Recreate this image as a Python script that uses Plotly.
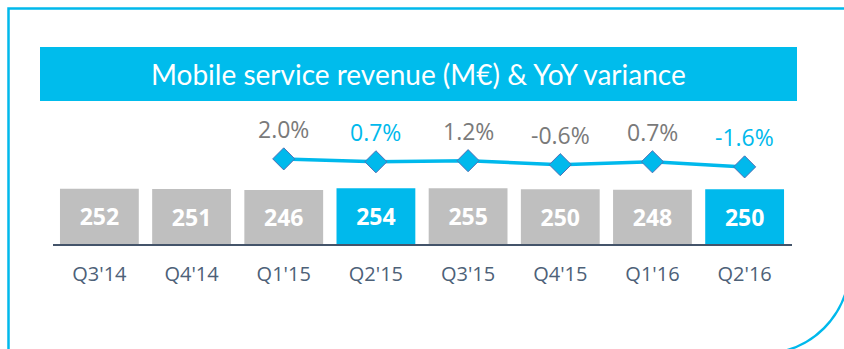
import plotly.graph_objects as go

# Quarterly mobile service revenue (M€) and year-on-year variance (%)
quarters = ["Q3'14", "Q4'14", "Q1'15", "Q2'15", "Q3'15", "Q4'15", "Q1'16", "Q2'16"]
revenue = [252, 251, 246, 254, 255, 250, 248, 250]
yoy_quarters = ["Q1'15", "Q2'15", "Q3'15", "Q4'15", "Q1'16", "Q2'16"]
yoy_variance = [2.0, 0.7, 1.2, -0.6, 0.7, -1.6]
highlight = ["Q2'15", "Q2'16"]

W, H = 844, 349
CYAN = "#00b9ec"
GREY = "#bfbfbf"
SLATE = "#44546a"
PCT_GREY = "#7a7a7a"


def px(x):
    return x / W


def py(y):
    return 1 - y / H


bar_colors = [CYAN if q in highlight else GREY for q in quarters]
pct_colors = [CYAN if q in highlight else PCT_GREY for q in yoy_quarters]

fig = go.Figure()

fig.add_trace(go.Bar(
    x=quarters, y=revenue,
    marker=dict(color=bar_colors, line=dict(width=0)),
    text=[str(v) for v in revenue],
    textposition="inside", insidetextanchor="middle",
    textfont=dict(family="Open Sans", size=23, color="white", weight="bold"),
    hoverinfo="skip", yaxis="y",
))

fig.add_trace(go.Scatter(
    x=yoy_quarters, y=yoy_variance,
    mode="lines+markers",
    line=dict(color=CYAN, width=3.5),
    marker=dict(symbol="diamond", size=17, color=CYAN,
                line=dict(color="#4f6fb5", width=1)),
    hoverinfo="skip", yaxis="y2",
))

annotations = []
for q, v, c in zip(yoy_quarters, yoy_variance, pct_colors):
    annotations.append(dict(
        x=q, y=v, xref="x", yref="y2", yshift=30,
        text=f"{v:.1f}%", showarrow=False,
        font=dict(family="Open Sans", size=23, color=c),
    ))

# Title banner text
annotations.append(dict(
    x=px(418.5), y=py(74), xref="paper", yref="paper",
    text="Mobile service revenue (M€) & YoY variance", showarrow=False,
    font=dict(family="Lato", size=28, color="white"),
    xanchor="center", yanchor="middle",
))

# Arc of the rounded frame corner (cubic approximation of a quarter circle)
cx, cy, r = 763, 267, 86.4
k = 0.5523 * r
arc = (f"M {px(cx + r)},{py(cy)} "
       f"C {px(cx + r)},{py(cy + k)} {px(cx + k)},{py(cy + r)} {px(cx)},{py(cy + r)}")

shapes = [
    dict(type="path", xref="paper", yref="paper",
         path=f"M {px(W + 2)},{py(8.5)} L {px(8.5)},{py(8.5)} L {px(8.5)},{py(H + 2)}",
         line=dict(color=CYAN, width=2.5)),
    dict(type="path", xref="paper", yref="paper", path=arc,
         line=dict(color=CYAN, width=2.5)),
    dict(type="rect", xref="paper", yref="paper",
         x0=px(40), x1=px(797), y0=py(101), y1=py(47),
         fillcolor="#00bcec", line=dict(width=0), layer="below"),
]

fig.update_layout(
    width=W, height=H,
    margin=dict(l=0, r=0, t=0, b=0),
    paper_bgcolor="white", plot_bgcolor="rgba(0,0,0,0)",
    showlegend=False,
    bargap=0.145,
    xaxis=dict(
        domain=[px(53.3), px(792.2)],
        showgrid=False, zeroline=False,
        showline=True, linecolor=SLATE, linewidth=1.5,
        ticks="", ticklabelstandoff=11,
        tickfont=dict(family="Open Sans", size=20, color="#4d6178"),
    ),
    yaxis=dict(
        domain=[py(244), py(100)], range=[0, 657.5],
        visible=False,
    ),
    yaxis2=dict(
        domain=[py(244), py(100)], range=[-36.3, 28.5],
        overlaying="y", visible=False,
    ),
    annotations=annotations,
    shapes=shapes,
)

fig.write_html("out.html")
